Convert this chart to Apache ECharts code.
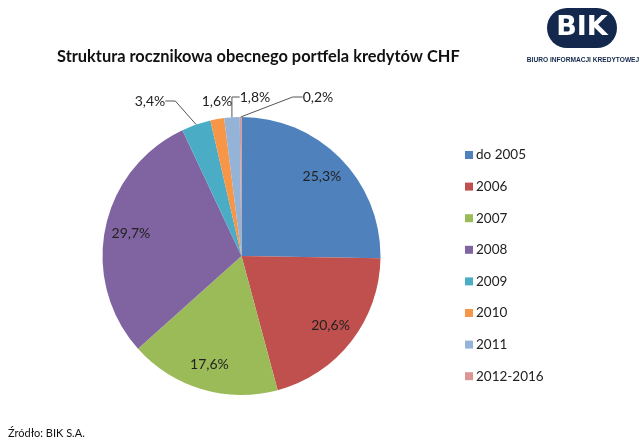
<!DOCTYPE html>
<html><head><meta charset="utf-8">
<script src="https://cdn.jsdelivr.net/npm/echarts@6/dist/echarts.min.js"></script>
<style>html,body{margin:0;padding:0;background:#fff}#c{width:640px;height:445px}</style>
</head><body><div id="c"></div>
<script>
const categories = ['do 2005', '2006', '2007', '2008', '2009', '2010', '2011', '2012-2016'];
const values = [25.3, 20.6, 17.6, 29.7, 3.4, 1.6, 1.8, 0.2];
const colors = ['#4F81BD', '#C0504D', '#9BBB59', '#8064A2', '#4BACC6', '#F79646', '#95B3D7', '#D99694'];
const outsideLabelSpots = {4: [150, 101], 5: [217, 101], 6: [255, 97], 7: [318, 97]};

const fmt = v => v.toFixed(1).replace('.', ',') + '%';
const FONT = 'Lato, "Open Sans", sans-serif';
const chart = echarts.init(document.getElementById('c'), null, {renderer: 'canvas'});
const center = [241.5, 256];
const R = 139;
const isSmall = i => values[i] < 5;

chart.setOption({
  animation: false,
  color: colors,
  title: {
    text: 'Struktura rocznikowa obecnego portfela kredytów CHF',
    left: 52, top: 44,
    textStyle: {fontFamily: FONT, fontSize: 16.4, fontWeight: 'bold', color: '#111'}
  },
  legend: {
    orient: 'vertical', left: 460, top: 143,
    icon: 'rect', itemWidth: 8, itemHeight: 8, itemGap: 17.6,
    data: categories,
    textStyle: {fontFamily: FONT, fontSize: 13.5, color: '#222', padding: [0, 0, 0, -2]}
  },
  graphic: [
    {type: 'rect', shape: {x: 547, y: 8, width: 70, height: 40, r: 20}, style: {fill: '#13284c'}},
    {type: 'text', style: {x: 582, y: 28, text: 'BIK', fill: '#fff', font: 'bold 27px "DejaVu Sans", sans-serif', textAlign: 'center', textVerticalAlign: 'middle'}},
    {type: 'text', style: {x: 583, y: 60, text: 'BIURO INFORMACJI KREDYTOWEJ', fill: '#13284c', font: 'bold 6.6px "Liberation Sans Narrow", "Liberation Sans", sans-serif', textAlign: 'center', textVerticalAlign: 'middle'}},
    {type: 'text', style: {x: 8, y: 433, text: 'Źródło: BIK S.A.', fill: '#111', font: '11px ' + FONT, textVerticalAlign: 'middle'}}
  ],
  series: [
    {
      type: 'pie', center: center, radius: [0, R], startAngle: 90, clockwise: true,
      silent: true,
      itemStyle: {borderWidth: 0},
      data: categories.map((c, i) => ({
        name: c, value: values[i],
        label: isSmall(i) ? {show: true} : {show: false},
        labelLine: {show: isSmall(i) && i !== 5}
      })),
      label: {
        position: 'outside', formatter: p => fmt(p.value),
        fontFamily: FONT, fontSize: 14, color: '#222'
      },
      labelLine: {length: 10, length2: 10, lineStyle: {color: '#555', width: 1}},
      labelLayout: p => {
        const s = outsideLabelSpots[p.dataIndex];
        if (!s) return {};
        return {x: s[0], y: s[1], align: 'center', verticalAlign: 'middle'};
      }
    },
    {
      type: 'pie', center: center, radius: [R * 0.58, R], startAngle: 90, clockwise: true,
      silent: true, legendHoverLink: false,
      itemStyle: {color: 'rgba(0,0,0,0)', borderWidth: 0},
      data: categories.map((c, i) => ({
        name: c, value: values[i],
        label: {show: !isSmall(i)}
      })),
      label: {
        position: 'inside', formatter: p => fmt(p.value),
        fontFamily: FONT, fontSize: 14, color: '#222'
      },
      labelLine: {show: false}
    }
  ]
});
</script></body></html>
